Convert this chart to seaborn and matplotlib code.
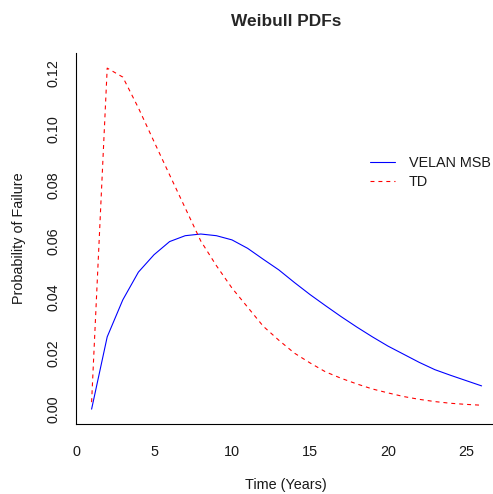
import numpy as np
import pandas as pd
import matplotlib
matplotlib.use("Agg")
import matplotlib.pyplot as plt
import seaborn as sns

# Weibull probability density, evaluated at each service year
years = list(range(1, 27))
velan_msb = [0.0, 0.0258, 0.0390, 0.0489, 0.0551, 0.0598, 0.0619, 0.0625,
             0.0619, 0.0604, 0.0574, 0.0535, 0.0497, 0.0452, 0.0409, 0.0369,
             0.0330, 0.0293, 0.0258, 0.0225, 0.0196, 0.0167, 0.0141, 0.0121,
             0.0102, 0.0083]
td = [0.0025, 0.1217, 0.1185, 0.1075, 0.0955, 0.0836, 0.0718, 0.0600,
      0.0512, 0.0432, 0.0364, 0.0296, 0.0246, 0.0200, 0.0165, 0.0133,
      0.0110, 0.0090, 0.0072, 0.0058, 0.0045, 0.0035, 0.0027, 0.0021,
      0.0017, 0.0014]
series_names = ["VELAN MSB", "TD"]
x_ticks = [0, 5, 10, 15, 20, 25]
y_ticks = [0.00, 0.02, 0.04, 0.06, 0.08, 0.10, 0.12]

df = pd.DataFrame({
    "Time": years * 2,
    "Probability": velan_msb + td,
    "Model": [series_names[0]] * len(years) + [series_names[1]] * len(years),
})

sns.set_style("white")
plt.rcParams["font.family"] = ["Liberation Sans", "DejaVu Sans"]

px = 0.72  # one pixel in points at 100 dpi
fig = plt.figure(figsize=(4.93, 4.94), dpi=100)
ax = fig.add_axes([76 / 493, 70 / 494, 421.2 / 493, 371 / 494])

sns.lineplot(data=df[df["Model"] == series_names[0]], x="Time", y="Probability",
             color="blue", linewidth=1.1 * px, ax=ax, label=series_names[0])
sns.lineplot(data=df[df["Model"] == series_names[1]], x="Time", y="Probability",
             color="red", linewidth=1.1 * px, linestyle=(0, (3.6, 3.6)), ax=ax,
             label=series_names[1])

ax.set_xlim(0, 27)
ax.set_ylim(-0.0053, 0.1271)
ax.set_xticks(x_ticks)
ax.set_yticks(y_ticks)
ax.set_xticklabels([str(t) for t in x_ticks])
ax.set_yticklabels([f"{t:.2f}" for t in y_ticks], rotation=90, va="center")

for side in ("top", "right"):
    ax.spines[side].set_visible(False)
for side in ("left", "bottom"):
    ax.spines[side].set_color("black")
    ax.spines[side].set_linewidth(1.1 * px)

fs = 14.4 * px
text_color = "#1a1a1a"
ax.tick_params(axis="both", direction="out", length=7 * px, width=px,
               color="black", labelsize=fs, labelcolor=text_color)
ax.tick_params(axis="x", pad=10)
ax.tick_params(axis="y", pad=6)

ax.set_xlabel("Time (Years)", fontsize=fs, color=text_color, va="center")
ax.xaxis.set_label_coords((286 - 76) / 421.2, (424 - 485) / 371)
ax.set_ylabel("Probability of Failure", fontsize=fs, color=text_color,
              va="center")
ax.yaxis.set_label_coords((19 - 76) / 421.2, 0.5)
fig.text(286 / 493, 1 - 21 / 494, "Weibull PDFs", ha="center", va="center",
         fontsize=17.3 * px, fontweight="bold")

ax.legend(loc="upper left",
          bbox_to_anchor=((370 - 76) / 421.2, 1 - (156 - 53) / 371),
          frameon=False, fontsize=fs, handlelength=1.75, handletextpad=0.95,
          labelspacing=0.38, borderaxespad=0, borderpad=0,
          labelcolor=text_color)

fig.savefig("out.png", dpi=100)
